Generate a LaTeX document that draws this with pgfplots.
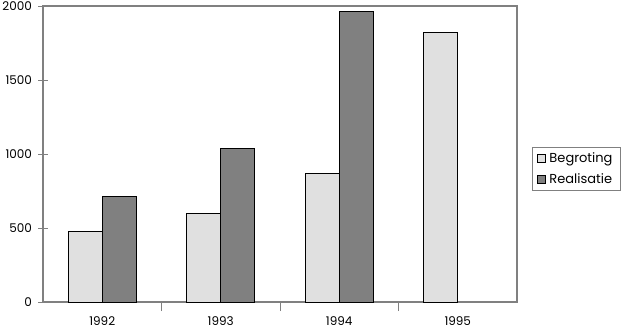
\documentclass[border=0pt]{standalone}
\usepackage{pgfplots}
\pgfplotsset{compat=1.18}
\usepackage{fontspec}
\setmainfont{Poppins}
\usetikzlibrary{calc}
\definecolor{lightbar}{RGB}{224,224,224}
\definecolor{darkbar}{RGB}{128,128,128}
\begin{document}
\begin{tikzpicture}
\begin{axis}[
  name=ax,
  scale only axis,
  width=474pt, height=296pt,
  xmin=-0.5, xmax=3.5,
  ymin=0, ymax=2000,
  ytick={0,500,1000,1500,2000},
  xtick={0,1,2,3},
  xticklabels={1992,1993,1994,1995},
  minor xtick={0.5,1.5,2.5},
  major x tick style={draw=none},
  tick align=center,
  major tick length=9pt,
  minor tick length=9pt,
  every tick/.style={gray, line width=0.9pt},
  xtick pos=bottom, ytick pos=left,
  axis line style={draw=gray, line width=1.2pt},
  tick label style={font=\fontsize{12}{14}\selectfont},
  /pgf/number format/assume math mode=true,
  /pgf/number format/1000 sep={},
  yticklabel style={xshift=-3pt},
  xticklabel style={yshift=-2pt},
  ybar=0pt,
  bar width=0.287,
  legend style={at={(1.032,0.45)}, anchor=west, draw=gray, line width=0.8pt,
    font=\fontsize{13}{16}\selectfont, inner xsep=4pt, inner ysep=4pt, row sep=5pt,
    nodes={inner xsep=4pt},
    legend cell align=left},
  legend image code/.code={\draw[#1, draw=black, line width=0.9pt] (0pt,-4pt) rectangle (8pt,4pt);},
]
\addplot[fill=lightbar, draw=black, line width=1pt] coordinates {(0,475) (1,600) (2,866) (3,1818)};
\addplot[fill=darkbar, draw=black, line width=1pt] coordinates {(0,711) (1,1034) (2,1966)};
\legend{Begroting,Realisatie}
\end{axis}
\pgfresetboundingbox
\path ($(ax.south west)+(-43pt,-30pt)$) rectangle ($(ax.north east)+(112pt,6pt)$);
\end{tikzpicture}
\end{document}
